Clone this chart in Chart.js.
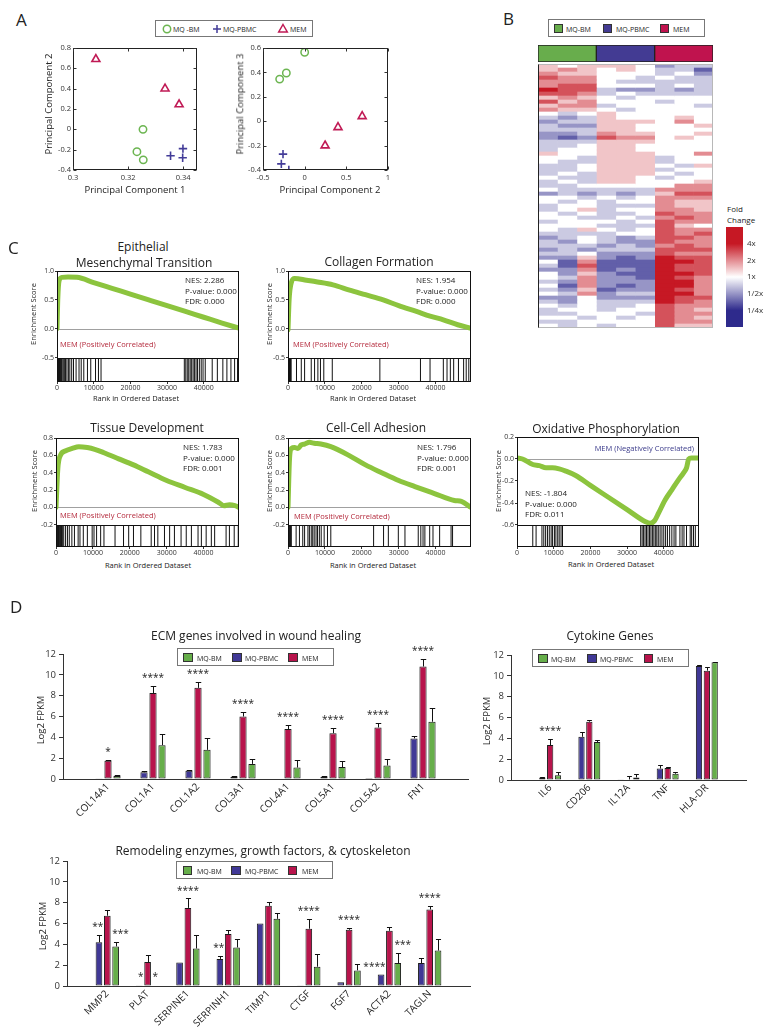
<!DOCTYPE html>
<html><head><meta charset="utf-8"><title>Macrophage / MEM figure</title>
<script src="https://cdn.jsdelivr.net/npm/chart.js@4.4.1/dist/chart.umd.min.js"></script>
<style>
html,body{margin:0;padding:0;background:#fff;}
body{width:773px;height:1032px;position:relative;overflow:hidden;font-family:'Open Sans',sans-serif;color:#222;}
canvas{position:absolute;}
.t{position:absolute;white-space:nowrap;line-height:1;}
.box{position:absolute;border:1px solid #777;box-sizing:border-box;background:#fff;}
.sq{position:absolute;box-sizing:border-box;border:1px solid #333;}
svg{position:absolute;overflow:visible;}
</style></head><body>
<script>
// ================= DATA =================
// Panel A – PCA
const pcaGroups = ['MQ -BM', 'MQ-PBMC', 'MEM'];
const pc1BM   = [0.3254, 0.3232, 0.3255];
const pc1PBMC = [0.3354, 0.3399, 0.3398];
const pc1MEM  = [0.3083, 0.3334, 0.3385];
const pc2BM   = [0.00, -0.22, -0.30];
const pc2PBMC = [-0.26, -0.19, -0.28];
const pc2MEM  = [0.69, 0.40, 0.245];
const pc3BM   = [0.565, 0.395, 0.345];
const pc3PBMC = [-0.27, -0.40, -0.35];
const pc3MEM  = [0.04, -0.05, -0.20];
const pc1Ticks = [0.3, 0.32, 0.34];
const pc2Ticks = [-0.4, -0.2, 0, 0.2, 0.4, 0.6, 0.8];
const pc2AxisTicks = [-0.5, 0, 0.5, 1];
const pc3Ticks = [-0.4, -0.2, 0, 0.2, 0.4, 0.6];

// Panel B – heatmap (level per column: 0 = 1/4x, 4 = 1x, 8 = 4x)
const heatGroups = ['MQ-BM', 'MQ-PBMC', 'MEM'];
const heatColumns = ['BM 1', 'BM 2', 'BM 3', 'PBMC 1', 'PBMC 2', 'PBMC 3', 'MEM 1', 'MEM 2', 'MEM 3'];
const heatColumnGroup = [0, 0, 0, 1, 1, 1, 2, 2, 2];
const heatRows = [
 '545554233','565454331','655444342','766443433','666433333','677444343','877322323','776343333',
 '565434444','756444344','566344443','655434444','434544444','323544454','233555464','322554445',
 '333554444','223655445','212766454','333555444','334554444','344554444','544555446','443555344',
 '433555344','334555435','334555344','343555434','433554344','343554445','334444466','433333666',
 '232323577','443434666','434344655','344333655','345344665','434334766','443343676','344434766',
 '444333754','435434766','333344767','234323776','324322766','333232676','232333777','334222766',
 '225212877','416111887','317111877','226121877','425211887','436221876','326222886','416212886',
 '325122876','436233886','224222877','324333876','434334766','344344765','334443766','443434765',
 '334444766','434344755'
];
const foldTicks = [2, 1, 0, -1, -2];
const foldLabels = ['4x', '2x', '1x', '1/2x', '1/4x'];

// Panel C – GSEA
const rankMax = 49600;
const rankTicks = [0, 10000, 20000, 30000, 40000];
const emtRank = [0, 200, 600, 1400, 3000, 5400, 10000, 15000, 20000, 25000, 30000, 35000, 40000, 45000, 49600];
const emtES   = [0, 0.5, 0.84, 0.89, 0.895, 0.89, 0.8, 0.7, 0.6, 0.5, 0.4, 0.3, 0.2, 0.1, 0.01];
const emtHits = [100,250,400,550,700,850,1000,1200,1400,1700,2000,2300,2700,3100,3500,4000,4500,5200,6000,6600,7300,8300,9200,10500,11300,12000,
  34700,35100,35500,35900,36300,36700,37100,37500,37900,38300,38800,39300,39800,40400,42300,43700,45200,46300,47400,48400,49200];
const emtStats = ['NES: 2.286', 'P-value: 0.000', 'FDR: 0.000'];

const colRank = [0, 300, 900, 1800, 5000, 8000, 12200, 16700, 21000, 25800, 30000, 34800, 38500, 42100, 46000, 49600];
const colES   = [-0.02, 0.5, 0.8, 0.87, 0.84, 0.81, 0.76, 0.67, 0.59, 0.5, 0.4, 0.3, 0.22, 0.155, 0.07, 0.01];
const colHits = [100,250,400,550,700,850,2300,3600,4500,6300,7200,8100,8800,9700,12000,24900,35900,38500,42100,43100,44000,44900,46200,47600,48300,49000];
const colStats = ['NES: 1.954', 'P-value: 0.000', 'FDR: 0.000'];

const tdRank = [0, 500, 1200, 2500, 4400, 6200, 8500, 10500, 13000, 17000, 21000, 25000, 30000, 35000, 40000, 44000, 45500, 47000, 48500, 49600];
const tdES   = [0, 0.45, 0.6, 0.65, 0.68, 0.70, 0.69, 0.67, 0.63, 0.56, 0.49, 0.41, 0.31, 0.23, 0.15, 0.06, 0.02, 0.03, 0.02, 0.0];
const tdHits = [50,200,350,500,650,800,1000,1200,1500,1800,2100,2600,3100,3600,4300,5000,6000,6500,7400,8500,9800,10300,11000,12100,13000,16000,18300,19700,
  21000,23000,25800,26700,27600,29400,30800,32100,33900,35300,36700,38500,39400,40700,42100,43000,46100,47000,48300,49400];
const tdStats = ['NES: 1.783', 'P-value: 0.000', 'FDR: 0.001'];

const ccaRank = [0, 400, 900, 1800, 2700, 3600, 4500, 5800, 7100, 8900, 11600, 16500, 21000, 25400, 30000, 34400, 39700, 45100, 47000, 49600];
const ccaES   = [0, 0.55, 0.68, 0.69, 0.68, 0.72, 0.73, 0.75, 0.74, 0.73, 0.70, 0.60, 0.49, 0.40, 0.31, 0.24, 0.16, 0.08, 0.07, 0.0];
const ccaHits = [50,200,350,500,700,900,2200,3100,4000,4500,5400,5800,6300,6700,7100,7600,8000,8500,9000,9800,10700,11600,
  23200,25900,27200,29900,31700,35300,36000,36600,37100,38400,39300,41100,44200,44600,49500];
const ccaStats = ['NES: 1.796', 'P-value: 0.000', 'FDR: 0.001'];

const oxRank = [0, 1500, 4300, 6100, 7900, 9700, 11500, 13300, 16000, 20000, 25000, 30000, 35000, 36300, 37500, 38600, 40400, 42200, 44000, 45300, 46200, 46800, 47500, 49600];
const oxES   = [0.01, 0.0, -0.05, -0.06, -0.08, -0.08, -0.09, -0.11, -0.15, -0.24, -0.35, -0.46, -0.57, -0.585, -0.56, -0.49, -0.37, -0.28, -0.19, -0.13, -0.08, 0.0, 0.01, 0.01];
const oxHits = [4300,5200,6800,7300,7800,8300,8800,9300,9700,10200,10600,11100,11500,12000,12400,
  33700,34100,34500,34900,35300,35700,36100,36500,36900,37300,37700,38100,38500,39000,39500,40000,40500,41000,41600,42200,42800,43300,44400,45000,45500,46200,47200,47600,48100,48600];
const oxStats = ['NES: -1.804', 'P-value: 0.000', 'FDR: 0.011'];

// Panel D – bar charts (Log2 FPKM, mean and upper error)
const barSeries = ['MQ-BM', 'MQ-PBMC', 'MEM'];
const ecmGenes = ['COL14A1', 'COL1A1', 'COL1A2', 'COL3A1', 'COL4A1', 'COL5A1', 'COL5A2', 'FN1'];
const ecmPBMC    = [0.03, 0.65, 0.8, 0.2, 0.05, 0.2, 0.1, 3.9];
const ecmPBMCErr = [0, 0.08, 0.05, 0.05, 0, 0.05, 0, 0.2];
const ecmMEM     = [1.75, 8.25, 8.75, 6.0, 4.8, 4.4, 4.95, 10.8];
const ecmMEMErr  = [0.05, 0.65, 0.55, 0.4, 0.35, 0.5, 0.45, 0.7];
const ecmBM      = [0.3, 3.25, 2.8, 1.45, 1.1, 1.15, 1.3, 5.5];
const ecmBMErr   = [0.1, 1.05, 1.15, 0.5, 0.7, 0.55, 0.65, 1.3];
const ecmStarsMEM = ['*', '****', '****', '****', '****', '****', '****', '****'];

const cytoGenes = ['IL6', 'CD206', 'IL12A', 'TNF', 'HLA-DR'];
const cytoPBMC    = [0.25, 4.15, 0.02, 1.1, 10.95];
const cytoPBMCErr = [0.05, 0.5, 0, 0.3, 0.05];
const cytoMEM     = [3.35, 5.6, 0.05, 1.15, 10.5];
const cytoMEMErr  = [0.55, 0.15, 0.3, 0.12, 0.35];
const cytoBM      = [0.45, 3.65, 0.25, 0.6, 11.3];
const cytoBMErr   = [0.3, 0.2, 0.28, 0.18, 0.05];
const cytoStarsMEM = ['****', '', '', '', ''];

const remGenes = ['MMP2', 'PLAT', 'SERPINE1', 'SERPINH1', 'TIMP1', 'CTGF', 'FGF7', 'ACTA2', 'TAGLN'];
const remPBMC    = [4.2, 0.08, 2.25, 2.6, 6.0, 0.08, 0.35, 1.1, 2.2];
const remPBMCErr = [0.73, 0, 0, 0.3, 0, 0, 0, 0, 0.5];
const remMEM     = [6.75, 2.3, 7.5, 5.0, 7.7, 5.5, 5.4, 5.3, 7.35];
const remMEMErr  = [0.55, 0.65, 0.9, 0.35, 0.35, 0.9, 0.2, 0.4, 0.35];
const remBM      = [3.8, 0.05, 3.6, 3.7, 6.45, 1.85, 1.5, 2.2, 3.4];
const remBMErr   = [0.45, 0, 1.3, 0.8, 0.55, 1.25, 0.65, 1.0, 1.15];
const remStarsPBMC = ['**', '*', '', '**', '', '', '', '****', ''];
const remStarsMEM  = ['', '', '****', '', '', '****', '****', '', '****'];
const remStarsBM   = ['***', '*', '', '', '', '', '', '***', ''];

// ================= STYLE =================
const C_GREEN = '#66ae4a', C_BLUE = '#403896', C_RED = '#b8144c';
const S_GREEN = '#6cb551', S_BLUE = '#433c98', S_RED = '#c01a55';
const GSEA_GREEN = '#8cc43e';
const BAND = ['#68ad4c', '#433b93', '#c0134e'];

Chart.defaults.font.family = "'Open Sans', sans-serif";
Chart.defaults.color = '#333';
Chart.defaults.animation = false;
Chart.defaults.responsive = false;
Chart.defaults.maintainAspectRatio = false;
Chart.defaults.plugins.legend.display = false;
Chart.defaults.plugins.tooltip.enabled = false;

// frame / reference lines plugin
Chart.register({
  id: 'frame',
  beforeDatasetsDraw(chart, args, o) {
    if (!o || !o.on || o.zero === undefined) return;
    const {ctx, chartArea: a, scales} = chart;
    const y = Math.round(scales.y.getPixelForValue(o.zero)) + 0.5;
    ctx.save(); ctx.strokeStyle = '#a0a0a0'; ctx.lineWidth = 1;
    ctx.beginPath(); ctx.moveTo(a.left, y); ctx.lineTo(a.right, y); ctx.stroke(); ctx.restore();
  },
  afterDatasetsDraw(chart, args, o) {
    if (!o || !o.on) return;
    const {ctx, chartArea: a, scales} = chart;
    ctx.save();
    ctx.strokeStyle = o.color || '#111'; ctx.lineWidth = 1;
    const L = Math.round(a.left) + 0.5, R = Math.round(a.right) - 0.5, Tp = Math.round(a.top) + 0.5, B = Math.round(a.bottom) - 0.5;
    ctx.strokeRect(L, Tp, R - L, B - Tp);
    if (o.leftColor) { ctx.strokeStyle = o.leftColor; ctx.beginPath(); ctx.moveTo(L, Tp); ctx.lineTo(L, B); ctx.stroke(); }
    if (o.sep !== undefined) {
      const y = Math.round(scales.y.getPixelForValue(o.sep)) + 0.5;
      ctx.strokeStyle = '#111'; ctx.beginPath(); ctx.moveTo(a.left, y); ctx.lineTo(a.right, y); ctx.stroke();
    }
    if (o.innerTicks) {
      ctx.strokeStyle = '#333'; ctx.beginPath();
      scales.x.ticks.forEach(t => { const x = Math.round(scales.x.getPixelForValue(t.value)) + 0.5;
        ctx.moveTo(x, B); ctx.lineTo(x, B - 3); ctx.moveTo(x, Tp); ctx.lineTo(x, Tp + 3); });
      scales.y.ticks.forEach(t => { const y = Math.round(scales.y.getPixelForValue(t.value)) + 0.5;
        ctx.moveTo(L, y); ctx.lineTo(L + 3, y); ctx.moveTo(R, y); ctx.lineTo(R - 3, y); });
      ctx.stroke();
    }
    ctx.restore();
  }
});

// error bars + significance stars plugin
Chart.register({
  id: 'errbars',
  afterDatasetsDraw(chart, args, o) {
    if (!o || !o.errors) return;
    const {ctx} = chart; const ys = chart.scales.y;
    ctx.save(); ctx.strokeStyle = '#111'; ctx.lineWidth = 1;
    chart.data.datasets.forEach((ds, i) => {
      const meta = chart.getDatasetMeta(i);
      meta.data.forEach((bar, j) => {
        const v = ds.data[j]; if (v == null) return;
        const e = o.errors[i][j] || 0;
        const top = ys.getPixelForValue(v + e);
        if (e > 0) {
          const x = Math.round(bar.x) + 0.5, hw = bar.width * 0.38, yc = Math.round(top) + 0.5;
          ctx.beginPath(); ctx.moveTo(x, ys.getPixelForValue(v)); ctx.lineTo(x, yc);
          ctx.moveTo(x - hw, yc); ctx.lineTo(x + hw, yc); ctx.stroke();
        }
        const s = o.stars && o.stars[i] && o.stars[i][j];
        if (s) {
          const al = o.align[i];
          ctx.fillStyle = '#222'; ctx.font = "10px 'Open Sans', sans-serif"; ctx.textBaseline = 'alphabetic';
          ctx.textAlign = al;
          const x = al === 'right' ? bar.x + bar.width / 2 + 1 : al === 'left' ? bar.x - bar.width / 2 : bar.x;
          ctx.fillText(s, x, top - 5);
        }
      });
    });
    ctx.restore();
  }
});

// create a chart whose plot area is exactly (x, y, w, h) on the page
function mk(x, y, w, h, pad, cfg) {
  const c = document.createElement('canvas');
  const W = w + pad.l + pad.r, H = h + pad.t + pad.b;
  c.width = W; c.height = H;
  Object.assign(c.style, {left: (x - pad.l) + 'px', top: (y - pad.t) + 'px', width: W + 'px', height: H + 'px'});
  document.body.appendChild(c);
  const o = cfg.options = cfg.options || {};
  const sc = o.scales = o.scales || {};
  const lp = {left: pad.l, right: pad.r, top: pad.t, bottom: pad.b};
  for (const id in sc) {
    const s = sc[id];
    if (s.display === false) continue;
    if (s.grid && s.grid.display === false) s.grid.drawTicks = false;
    const horiz = id[0] === 'x';
    const side = s.position || (horiz ? 'bottom' : 'left');
    lp[side] = 0;
    const size = pad[side[0]];
    s.afterFit = (scale) => {
      if (horiz) { scale.height = size; scale.paddingLeft = 0; scale.paddingRight = 0; }
      else { scale.width = size; scale.paddingTop = 0; scale.paddingBottom = 0; }
    };
  }
  o.layout = {padding: lp, autoPadding: false};
  return new Chart(c, cfg);
}

// HTML text helpers
function T(s, x, y, o = {}) {
  const d = document.createElement('div'); d.className = 't'; d.textContent = s;
  d.style.left = x + 'px'; d.style.top = y + 'px'; d.style.fontSize = (o.s || 10) + 'px';
  if (o.c) d.style.color = o.c;
  const ax = o.a === 'c' ? '-50%' : o.a === 'r' ? '-100%' : '0';
  d.style.transform = `translate(${ax},-50%)` + (o.rot ? ` rotate(${o.rot}deg)` : '');
  document.body.appendChild(d); return d;
}
function box(x, y, w, h) { const d = document.createElement('div'); d.className = 'box';
  Object.assign(d.style, {left: x + 'px', top: y + 'px', width: w + 'px', height: h + 'px'}); document.body.appendChild(d); }
function sq(x, y, s, col) { const d = document.createElement('div'); d.className = 'sq';
  Object.assign(d.style, {left: x + 'px', top: y + 'px', width: s + 'px', height: s + 'px', background: col}); document.body.appendChild(d); }
function marker(kind, cx, cy, col) {
  const ns = 'http://www.w3.org/2000/svg';
  const svg = document.createElementNS(ns, 'svg');
  svg.setAttribute('width', 12); svg.setAttribute('height', 12);
  svg.style.left = (cx - 6) + 'px'; svg.style.top = (cy - 6) + 'px';
  let el;
  if (kind === 'circle') { el = document.createElementNS(ns, 'circle'); el.setAttribute('cx', 6); el.setAttribute('cy', 6); el.setAttribute('r', 3.7); }
  else if (kind === 'cross') { el = document.createElementNS(ns, 'path'); el.setAttribute('d', 'M6 2 V10 M2 6 H10'); }
  else { el = document.createElementNS(ns, 'polygon'); el.setAttribute('points', '6,1.5 10.3,9 1.7,9'); }
  el.setAttribute('fill', 'none'); el.setAttribute('stroke', col); el.setAttribute('stroke-width', 1.5);
  svg.appendChild(el); document.body.appendChild(svg);
}
const num = v => String(Math.round(v * 100) / 100);
const fixTicks = arr => (s) => { s.ticks = arr.map(v => ({value: v})); };

// ================= PANEL A =================
function pca(x, y, w, h, xs, ys, xTicks, yTicks, xMin, xMax, yMin, yMax) {
  const pts = (a, b) => a.map((v, i) => ({x: v, y: b[i]}));
  mk(x, y, w, h, {l: 28, t: 6, r: 8, b: 16}, {
    type: 'scatter',
    data: {datasets: [
      {label: pcaGroups[0], data: pts(xs[0], ys[0]), pointStyle: 'circle', pointRadius: 3.7, borderColor: S_GREEN, backgroundColor: 'rgba(0,0,0,0)', borderWidth: 1.5},
      {label: pcaGroups[1], data: pts(xs[1], ys[1]), pointStyle: 'cross', pointRadius: 4.2, borderColor: S_BLUE, borderWidth: 1.6},
      {label: pcaGroups[2], data: pts(xs[2], ys[2]), pointStyle: 'triangle', pointRadius: 4.6, borderColor: S_RED, backgroundColor: 'rgba(0,0,0,0)', borderWidth: 1.6}
    ]},
    options: {
      scales: {
        x: {type: 'linear', min: xMin, max: xMax, afterBuildTicks: fixTicks(xTicks), ticks: {font: {size: 7.5}, padding: 3, color: '#333', callback: num}, grid: {display: false}, border: {display: false}},
        y: {type: 'linear', min: yMin, max: yMax, afterBuildTicks: fixTicks(yTicks), ticks: {font: {size: 7.5}, padding: 2, color: '#333', callback: num}, grid: {display: false}, border: {display: false}}
      },
      plugins: {frame: {on: true, innerTicks: true, color: '#222'}}
    }
  });
}
pca(73, 48, 124, 122, [pc1BM, pc1PBMC, pc1MEM], [pc2BM, pc2PBMC, pc2MEM], pc1Ticks, pc2Ticks, 0.3, 0.345, -0.4, 0.8);
pca(263, 48, 125, 122, [pc2BM, pc2PBMC, pc2MEM], [pc3BM, pc3PBMC, pc3MEM], pc2AxisTicks, pc3Ticks, -0.5, 1, -0.4, 0.6);

T('A', 16, 19, {s: 17});
box(155, 20, 158, 17);
marker('circle', 167, 28.5, S_GREEN); T(pcaGroups[0], 173, 28.5, {s: 7});
marker('cross', 217, 28.5, S_BLUE); T(pcaGroups[1], 223, 28.5, {s: 7});
marker('triangle', 283, 28.5, S_RED); T(pcaGroups[2], 290, 28.5, {s: 7});
T('Principal Component 1', 135, 190, {s: 9.5, a: 'c'});
T('Principal Component 2', 49, 104, {s: 9.5, a: 'c', rot: -90});
T('Principal Component 2', 330, 190, {s: 9.5, a: 'c'});
T('Principal Component 3', 240, 104, {s: 9.5, a: 'c', rot: -90});

// ================= PANEL B =================
function heatColor(log2) {
  const t = Math.max(-1, Math.min(1, log2 / 2));
  const end = t >= 0 ? [198, 24, 36] : [46, 42, 140];
  const a = Math.abs(t);
  const c = end.map(e => Math.round(255 + (e - 255) * a));
  return `rgb(${c[0]},${c[1]},${c[2]})`;
}
const levelToLog2 = ch => (Number(ch) - 4) / 2;

// column group band
mk(538, 45, 175, 17, {l: 0, t: 0, r: 0, b: 0}, {
  type: 'bar',
  data: {labels: ['group'], datasets: heatGroups.map((g, gi) => {
    const cols = heatColumnGroup.map((v, i) => v === gi ? i : -1).filter(i => i >= 0);
    return {label: g, data: [[cols[0], cols[cols.length - 1] + 1]], backgroundColor: BAND[gi], borderColor: '#222', borderWidth: 1, borderSkipped: false, categoryPercentage: 1, barPercentage: 1};
  })},
  options: {indexAxis: 'y', scales: {x: {type: 'linear', min: 0, max: heatColumns.length, display: false}, y: {stacked: true, display: false}}}
});
// heatmap cells
mk(538, 64, 175, 264, {l: 0, t: 0, r: 0, b: 0}, {
  type: 'bar',
  data: {labels: heatRows.map((r, i) => 'gene ' + (i + 1)), datasets: heatColumns.map((col, c) => ({
    label: col, data: heatRows.map(() => [c, c + 1]),
    backgroundColor: heatRows.map(r => heatColor(levelToLog2(r[c]))),
    borderWidth: 0, categoryPercentage: 1, barPercentage: 1
  }))},
  options: {indexAxis: 'y', scales: {x: {type: 'linear', min: 0, max: heatColumns.length, display: false}, y: {stacked: true, display: false}},
    plugins: {frame: {on: true, color: '#b8b8b8', leftColor: '#222'}}}
});
// colour bar
mk(726, 227, 17, 100, {l: 0, t: 0, r: 30, b: 0}, {
  type: 'bar',
  data: {labels: ['Fold Change'], datasets: [{label: 'Fold Change', data: [[-3, 3]], borderWidth: 0, categoryPercentage: 1, barPercentage: 1,
    backgroundColor: (ctx) => {
      const a = ctx.chart.chartArea; if (!a) return '#fff';
      const g = ctx.chart.ctx.createLinearGradient(0, a.top, 0, a.bottom);
      for (let k = 0; k <= 12; k++) g.addColorStop(k / 12, heatColor(3 - 6 * k / 12));
      return g;
    }}]},
  options: {scales: {x: {display: false},
    y: {position: 'right', min: -3, max: 3, afterBuildTicks: fixTicks(foldTicks), ticks: {font: {size: 8}, padding: 4, color: '#333', callback: (v, i) => foldLabels[i]}, grid: {display: false}, border: {display: false}}}}
});
T('B', 503, 18, {s: 17});
box(548, 19, 157, 18);
sq(554, 23.5, 9, BAND[0]); T(heatGroups[0], 566, 28.5, {s: 7});
sq(603, 23.5, 9, BAND[1]); T(heatGroups[1], 616, 28.5, {s: 7});
sq(659.5, 23.5, 9, BAND[2]); T(heatGroups[2], 673, 28.5, {s: 7});
T('Fold', 727, 209, {s: 8});
T('Change', 727, 220, {s: 8});

// ================= PANEL C =================
function gsea(x, y, w, h, rank, es, hits, yMin, yMax, sep, yTicks) {
  const ppu = h / (yMax - yMin);
  const barH = (sep - yMin) * ppu;
  const mid = (sep + yMin) / 2;
  mk(x, y, w, h, {l: 26, t: 4, r: 4, b: 12}, {
    type: 'scatter',
    data: {datasets: [
      {label: 'Enrichment Score', data: rank.map((r, i) => ({x: r, y: es[i]})), showLine: true, borderColor: GSEA_GREEN, borderWidth: 5,
        pointRadius: 0, cubicInterpolationMode: 'monotone', borderJoinStyle: 'round', borderCapStyle: 'round'},
      {label: 'Hits', data: hits.map(r => ({x: r, y: mid})), pointStyle: 'line', rotation: 90, pointRadius: barH / 2 - 0.5,
        borderColor: '#111', borderWidth: 1, showLine: false}
    ]},
    options: {
      scales: {
        x: {type: 'linear', min: 0, max: rankMax, afterBuildTicks: fixTicks(rankTicks), ticks: {font: {size: 7}, padding: 0, color: '#333', callback: v => String(v)},
          grid: {drawOnChartArea: false, tickLength: 2, color: '#333'}, border: {display: false}},
        y: {type: 'linear', min: yMin, max: yMax, afterBuildTicks: fixTicks(yTicks), ticks: {font: {size: 7}, padding: 1, color: '#333', callback: v => v.toFixed(1)},
          grid: {drawOnChartArea: false, tickLength: 2, color: '#333'}, border: {display: false}}
      },
      plugins: {frame: {on: true, sep: sep, zero: 0}}
    }
  });
}
gsea(57, 271, 182, 111, emtRank, emtES, emtHits, -0.92, 1.0, -0.5, [1.0, 0.5, 0.0, -0.5]);
gsea(288, 271, 183, 111, colRank, colES, colHits, -0.92, 1.0, -0.5, [1.0, 0.5, 0.0, -0.5]);
gsea(56, 438, 183, 109, tdRank, tdES, tdHits, -0.456, 0.8, -0.2, [0.8, 0.6, 0.4, 0.2, 0.0, -0.2]);
gsea(288, 438, 183, 109, ccaRank, ccaES, ccaHits, -0.456, 0.8, -0.2, [0.8, 0.6, 0.4, 0.2, 0.0, -0.2]);
gsea(517, 437, 182, 110, oxRank, oxES, oxHits, -0.8, 0.2, -0.6, [0.2, 0.0, -0.2, -0.4, -0.6]);

T('C', 8, 247, {s: 17});
T('Epithelial', 143, 247, {s: 12, a: 'c'});
T('Mesenchymal Transition', 144, 263, {s: 12, a: 'c'});
T('Collagen Formation', 379, 262, {s: 12, a: 'c'});
T('Tissue Development', 147, 428, {s: 12, a: 'c'});
T('Cell-Cell Adhesion', 376, 428, {s: 12, a: 'c'});
T('Oxidative Phosphorylation', 606, 429, {s: 12, a: 'c'});
const POS = 'MEM (Positively Correlated)', NEG = 'MEM (Negatively Correlated)';
const MEMRED = '#b42a3c', MEMBLUE = '#3a3a8a';
[[emtStats, 185, 280], [colStats, 416, 280], [tdStats, 183, 447], [ccaStats, 417, 447], [oxStats, 525, 493]].forEach(([st, x, y0]) => {
  st.forEach((s, i) => T(s, x, y0 + i * 10.7, {s: 8}));
});
T(POS, 60, 345, {s: 7.5, c: MEMRED});
T(POS, 293, 345, {s: 7.5, c: MEMRED});
T(POS, 60, 516, {s: 7.5, c: MEMRED});
T(POS, 294, 517, {s: 7.5, c: MEMRED});
T(NEG, 694, 449, {s: 7.5, c: MEMBLUE, a: 'r'});
[[34, 314], [270, 314], [35, 481], [270, 481], [499, 481]].forEach(([x, y]) => T('Enrichment Score', x, y, {s: 7.5, a: 'c', rot: -90}));
[[136, 399], [373, 399], [148, 566], [373, 566], [611, 565]].forEach(([x, y]) => T('Rank in Ordered Dataset', x, y, {s: 7.5, a: 'c'}));

// ================= PANEL D =================
function bars(x, y, w, h, genes, pbmc, pbmcE, mem, memE, bm, bmE, stars, cp, bp) {
  const P = a => [null, ...a, null];
  const ds = [
    {label: barSeries[1], data: P(pbmc), backgroundColor: C_BLUE},
    {label: barSeries[2], data: P(mem), backgroundColor: C_RED},
    {label: barSeries[0], data: P(bm), backgroundColor: C_GREEN}
  ].map(d => Object.assign(d, {borderColor: '#1a1a1a', borderWidth: 1, borderSkipped: false, categoryPercentage: cp, barPercentage: bp}));
  mk(x, y, w, h, {l: 30, t: 18, r: 6, b: 46}, {
    type: 'bar',
    data: {labels: ['', ...genes, ''], datasets: ds},
    options: {
      scales: {
        x: {offset: false, grid: {display: false}, border: {display: true, color: '#333'},
          ticks: {autoSkip: false, minRotation: 45, maxRotation: 45, font: {size: 10}, color: '#222', padding: 2}},
        y: {min: 0, max: 12, ticks: {stepSize: 2, font: {size: 9.5}, color: '#333', padding: 3},
          grid: {drawOnChartArea: false, tickLength: 4, color: '#333'}, border: {display: true, color: '#333'}}
      },
      plugins: {errbars: {errors: [P(pbmcE), P(memE), P(bmE)], stars: stars.map(s => s ? P(s) : null), align: ['right', 'center', 'left']}}
    }
  });
}
bars(63, 654, 405, 125, ecmGenes, ecmPBMC, ecmPBMCErr, ecmMEM, ecmMEMErr, ecmBM, ecmBMErr, [null, ecmStarsMEM, null], 0.6, 0.8);
bars(511, 655, 235, 125, cytoGenes, cytoPBMC, cytoPBMCErr, cytoMEM, cytoMEMErr, cytoBM, cytoBMErr, [null, cytoStarsMEM, null], 0.6, 0.8);
bars(67, 861, 403, 125, remGenes, remPBMC, remPBMCErr, remMEM, remMEMErr, remBM, remBMErr, [remStarsPBMC, remStarsMEM, remStarsBM], 0.62, 0.8);

T('D', 10, 606, {s: 17});
T('ECM genes involved in wound healing', 256, 636, {s: 12, a: 'c'});
T('Cytokine Genes', 610, 636, {s: 12, a: 'c'});
T('Remodeling enzymes, growth factors, & cytoskeleton', 263, 851, {s: 12, a: 'c'});
T('Log2 FPKM', 41, 720, {s: 9.5, a: 'c', rot: -90});
T('Log2 FPKM', 487, 721, {s: 9.5, a: 'c', rot: -90});
T('Log2 FPKM', 43, 926, {s: 9.5, a: 'c', rot: -90});
function barLegend(x, y, sqx, tx) {
  box(x, y, 157, 18);
  const cols = [C_GREEN, C_BLUE, C_RED];
  barSeries.forEach((s, i) => { sq(sqx[i], y + 4.5, 9.5, cols[i]); T(s, tx[i], y + 9.5, {s: 7}); });
}
barLegend(177, 648, [183, 232, 288], [197, 245, 302]);
barLegend(532, 649, [538, 587, 643.5], [551, 600, 657]);
barLegend(176, 861, [182.5, 231, 287.5], [197, 245, 302]);
</script>
</body></html>
